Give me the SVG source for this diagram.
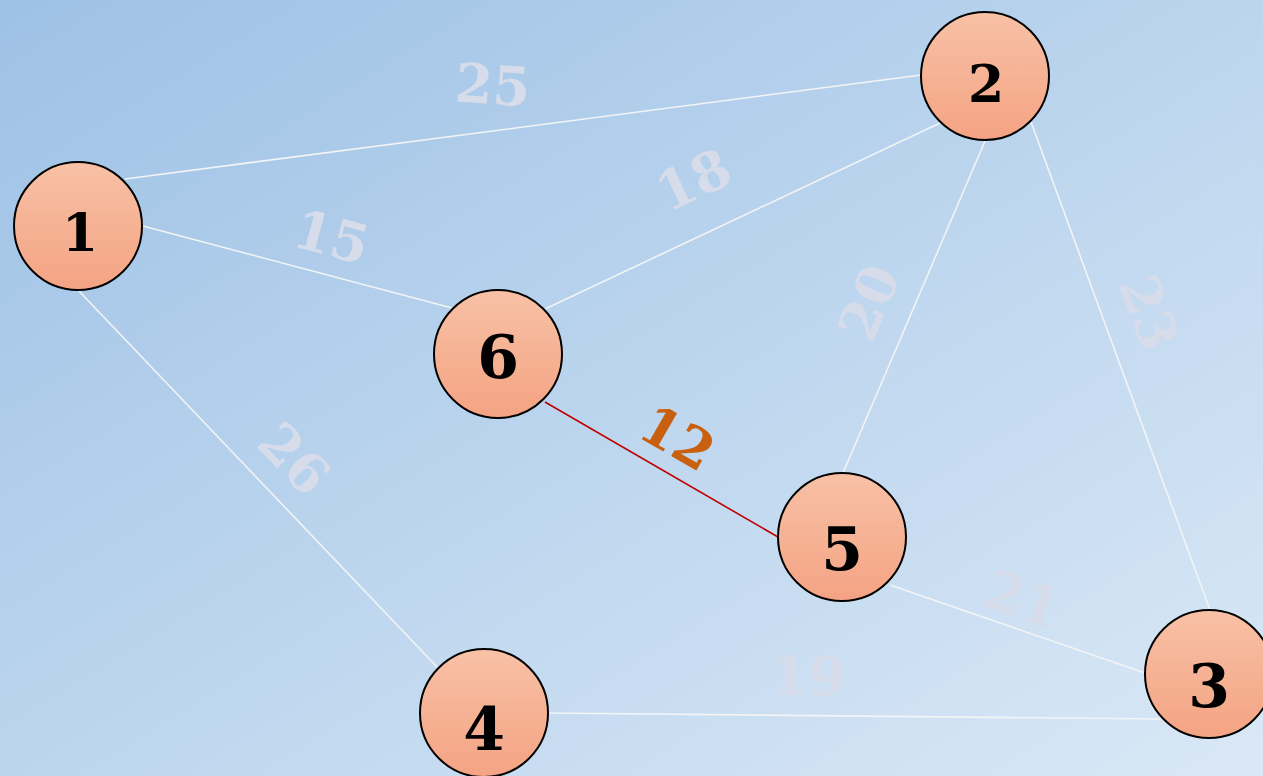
<svg xmlns="http://www.w3.org/2000/svg" width="1263" height="776" viewBox="0 0 1263 776">
<defs>
<linearGradient id="bg" x1="0" y1="0" x2="1" y2="1">
<stop offset="0" stop-color="#9dc1e5"/>
<stop offset="0.5" stop-color="#bcd5ee"/>
<stop offset="1" stop-color="#dae8f6"/>
</linearGradient>
<linearGradient id="nodeFill" x1="0" y1="0" x2="0" y2="1">
<stop offset="0" stop-color="#f8c1a6"/>
<stop offset="1" stop-color="#f4a383"/>
</linearGradient>
<style>
.node circle{fill:url(#nodeFill);stroke:#000;stroke-width:2}
.node text{font-family:"DejaVu Serif","Liberation Serif",serif;font-weight:bold;font-size:52px;fill:#000;text-anchor:middle}
.node text.big{font-size:60px}
.edge{stroke:#f2f4f6;stroke-width:1.6;fill:none}
.edge.hl{stroke:#c00000}
.lbl{font-family:"DejaVu Serif","Liberation Serif",serif;font-weight:bold;font-size:54px;fill:#d6dce9;text-anchor:middle}
.lbl.hl{fill:#c9600f}
</style>
</defs>
<rect width="1263" height="776" fill="url(#bg)"/>
<g id="connectors">
<line class="edge" x1="125" y1="179" x2="921" y2="75"/>
<line class="edge" x1="143" y1="226" x2="452" y2="308"/>
<line class="edge" x1="940" y1="123" x2="545" y2="309"/>
<line class="edge" x1="985" y1="141" x2="843" y2="473"/>
<line class="edge" x1="1031" y1="122" x2="1210" y2="610"/>
<line class="edge" x1="78" y1="290" x2="438" y2="668"/>
<line class="edge hl" x1="545" y1="402" x2="778" y2="537"/>
<line class="edge" x1="890" y1="585" x2="1145" y2="673"/>
<line class="edge" x1="549" y1="713" x2="1162" y2="719"/>
</g>
<g id="labels">
<g transform="translate(493,84) rotate(4)"><text class="lbl" x="0" y="20">25</text></g>
<g transform="translate(693,179) rotate(-25)"><text class="lbl" x="0" y="20">18</text></g>
<g transform="translate(332,236) rotate(15)"><text class="lbl" x="0" y="20">15</text></g>
<g transform="translate(868,302) rotate(-67)"><text class="lbl" x="0" y="20">20</text></g>
<g transform="translate(1150,312) rotate(70)"><text class="lbl" x="0" y="20">23</text></g>
<g transform="translate(295,458) rotate(46)"><text class="lbl" x="0" y="20">26</text></g>
<g transform="translate(678,437) rotate(30)"><text class="lbl hl" x="0" y="20">12</text></g>
<g transform="translate(1023,598) rotate(19)"><text class="lbl" x="0" y="20">21</text></g>
<g transform="translate(808,675) rotate(1)"><text class="lbl" x="0" y="20">19</text></g>
</g>
<g id="node1" class="node"><circle cx="78" cy="226" r="64"/><text x="80" y="251">1</text></g>
<g id="node2" class="node"><circle cx="985" cy="76" r="64"/><text x="986" y="102">2</text></g>
<g id="node6" class="node"><circle cx="498" cy="354" r="64"/><text class="big" x="498" y="378">6</text></g>
<g id="node5" class="node"><circle cx="842" cy="537" r="64"/><text class="big" x="842" y="570">5</text></g>
<g id="node4" class="node"><circle cx="484" cy="713" r="64"/><text class="big" x="484" y="750">4</text></g>
<g id="node3" class="node"><circle cx="1209" cy="674" r="64"/><text class="big" x="1209" y="707">3</text></g>
</svg>
